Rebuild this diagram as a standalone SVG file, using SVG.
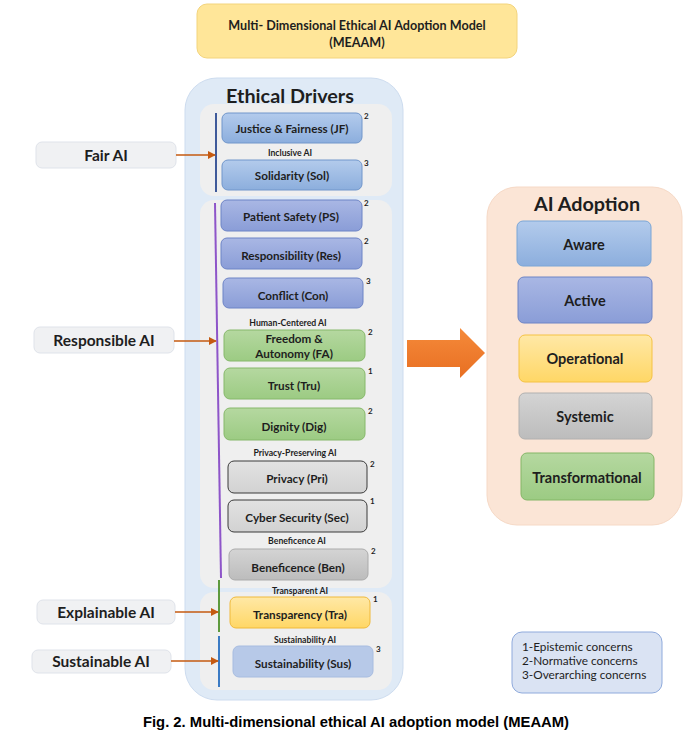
<svg xmlns="http://www.w3.org/2000/svg" width="688" height="745" viewBox="0 0 688 745">
<style>
text{font-family:Lato,"Liberation Sans",sans-serif;fill:#1e1e1e;font-weight:bold}
.nt{font-size:11.7px;text-anchor:middle;dominant-baseline:central}
.grp{font-size:8.7px;text-anchor:middle;dominant-baseline:central}
.sup{font-size:8px}
.lbl{font-size:15.5px;text-anchor:middle;dominant-baseline:central}
.ad{font-size:14.5px;text-anchor:middle;dominant-baseline:central}
.hd{font-size:19.8px;text-anchor:middle;dominant-baseline:central}
.lg{font-size:11.8px;font-weight:normal}
.lb{fill:#f0f1f3;stroke:#dfe3ea;stroke-width:1}
.conn{stroke:#c55a11;stroke-width:1.6;fill:none;marker-end:url(#ah)}
</style>
<defs>
<marker id="ah" viewBox="0 0 10 10" refX="9" refY="5" markerWidth="5" markerHeight="5" orient="auto" markerUnits="strokeWidth"><path d="M0,0L10,5L0,10z" fill="#c55a11"/></marker>
<linearGradient id="gBlue" x1="0" y1="0" x2="0" y2="1"><stop offset="0" stop-color="#b3cbec"/><stop offset="1" stop-color="#8caedd"/></linearGradient>
<linearGradient id="gPeri" x1="0" y1="0" x2="0" y2="1"><stop offset="0" stop-color="#a9b7e4"/><stop offset="1" stop-color="#8a9dd7"/></linearGradient>
<linearGradient id="gGreen" x1="0" y1="0" x2="0" y2="1"><stop offset="0" stop-color="#b5d8a0"/><stop offset="1" stop-color="#9ccb83"/></linearGradient>
<linearGradient id="gGray" x1="0" y1="0" x2="0" y2="1"><stop offset="0" stop-color="#e2e2e2"/><stop offset="1" stop-color="#d2d2d2"/></linearGradient>
<linearGradient id="gGray2" x1="0" y1="0" x2="0" y2="1"><stop offset="0" stop-color="#d4d4d4"/><stop offset="1" stop-color="#bcbcbc"/></linearGradient>
<linearGradient id="gYel" x1="0" y1="0" x2="0" y2="1"><stop offset="0" stop-color="#ffe8a6"/><stop offset="1" stop-color="#ffd766"/></linearGradient>
<linearGradient id="gOrange" x1="0" y1="0" x2="0" y2="1"><stop offset="0" stop-color="#f58a3a"/><stop offset="1" stop-color="#e86f22"/></linearGradient>
</defs>

<g id="title">
<rect x="197" y="4" width="320" height="54" rx="10" fill="#ffe699" stroke="#f3d47c"/>
<text x="357" y="25" class="nt" style="font-size:12.6px">Multi- Dimensional Ethical AI Adoption Model</text>
<text x="357" y="42" class="nt" style="font-size:12.6px">(MEAAM)</text>
</g>

<g id="ethical-drivers">
<rect x="185" y="78" width="218" height="622" rx="32" fill="#dfeaf6" stroke="#cddcef"/>
<text x="290" y="95" class="hd">Ethical Drivers</text>
<rect x="200" y="104" width="192" height="92" rx="14" fill="#efefef"/>
<rect x="200" y="200" width="192" height="388" rx="14" fill="#efefef"/>
<rect x="200" y="592" width="192" height="98" rx="14" fill="#efefef"/>
</g>

<g id="group-lines">
<line x1="216" y1="113" x2="216" y2="192" stroke="#3f5a9a" stroke-width="2"/>
<line x1="215" y1="203" x2="221" y2="578" stroke="#8e55c9" stroke-width="2"/>
<line x1="219" y1="580" x2="219" y2="632" stroke="#5e9a3e" stroke-width="2"/>
<line x1="219" y1="636" x2="219" y2="687" stroke="#3b7bc4" stroke-width="2"/>
</g>

<g id="jf"><rect x="222" y="113" width="140" height="30" rx="6" fill="url(#gBlue)" stroke="#7096cb"/><text x="292" y="128" class="nt">Justice &amp; Fairness (JF)</text><text x="364" y="119" class="sup">2</text></g>
<text x="290" y="152" class="grp">Inclusive AI</text>
<g id="sol"><rect x="222" y="160" width="140" height="30" rx="6" fill="url(#gBlue)" stroke="#7096cb"/><text x="292" y="175" class="nt">Solidarity (Sol)</text><text x="364" y="166" class="sup">3</text></g>

<g id="ps"><rect x="221" y="200" width="141" height="31" rx="6" fill="url(#gPeri)" stroke="#6d84c6"/><text x="291" y="216" class="nt">Patient Safety (PS)</text><text x="364" y="206" class="sup">2</text></g>
<g id="res"><rect x="221" y="238" width="141" height="31" rx="6" fill="url(#gPeri)" stroke="#6d84c6"/><text x="291" y="255" class="nt">Responsibility (Res)</text><text x="364" y="244" class="sup">2</text></g>
<g id="con"><rect x="223" y="278" width="140" height="30" rx="6" fill="url(#gPeri)" stroke="#6d84c6"/><text x="293" y="295" class="nt">Conflict (Con)</text><text x="366" y="284" class="sup">3</text></g>
<text x="288" y="322" class="grp">Human-Centered AI</text>
<g id="fa"><rect x="224" y="330" width="141" height="31" rx="6" fill="url(#gGreen)" stroke="#86b86a"/><text x="294" y="338" class="nt">Freedom &amp;</text><text x="294" y="353" class="nt">Autonomy (FA)</text><text x="368" y="335" class="sup">2</text></g>
<g id="tru"><rect x="224" y="368" width="141" height="31" rx="6" fill="url(#gGreen)" stroke="#86b86a"/><text x="294" y="385" class="nt">Trust (Tru)</text><text x="368" y="374" class="sup">1</text></g>
<g id="dig"><rect x="224" y="408" width="141" height="32" rx="6" fill="url(#gGreen)" stroke="#86b86a"/><text x="294" y="426" class="nt">Dignity (Dig)</text><text x="368" y="414" class="sup">2</text></g>
<text x="295" y="452" class="grp">Privacy-Preserving AI</text>
<g id="pri"><rect x="228" y="461" width="139" height="32" rx="6" fill="url(#gGray)" stroke="#3a3a3a"/><text x="297" y="478" class="nt">Privacy (Pri)</text><text x="370" y="467" class="sup">2</text></g>
<g id="sec"><rect x="228" y="500" width="139" height="32" rx="6" fill="url(#gGray)" stroke="#3a3a3a"/><text x="297" y="517" class="nt">Cyber Security (Sec)</text><text x="370" y="504" class="sup">1</text></g>
<text x="297" y="540" class="grp">Beneficence AI</text>
<g id="ben"><rect x="229" y="549" width="139" height="31" rx="6" fill="url(#gGray2)" stroke="#ababab"/><text x="298" y="567" class="nt">Beneficence (Ben)</text><text x="371" y="554" class="sup">2</text></g>
<text x="300" y="590" class="grp">Transparent AI</text>
<g id="tra"><rect x="230" y="597" width="140" height="31" rx="6" fill="url(#gYel)" stroke="#f0b93a"/><text x="300" y="614" class="nt">Transparency (Tra)</text><text x="373" y="602" class="sup">1</text></g>
<text x="305" y="639" class="grp">Sustainability AI</text>
<g id="sus"><rect x="233" y="646" width="140" height="31" rx="6" fill="#b7c9e8" stroke="#a7bce0"/><text x="303" y="663" class="nt">Sustainability (Sus)</text><text x="376" y="652" class="sup">3</text></g>

<g id="fair-ai"><rect x="36" y="142" width="140" height="26" rx="6" class="lb"/><text x="106" y="155" class="lbl">Fair AI</text></g>
<g id="responsible-ai"><rect x="34" y="327" width="140" height="26" rx="6" class="lb"/><text x="104" y="340" class="lbl">Responsible AI</text></g>
<g id="explainable-ai"><rect x="37" y="600" width="138" height="24" rx="6" class="lb"/><text x="106" y="612" class="lbl">Explainable AI</text></g>
<g id="sustainable-ai"><rect x="32" y="650" width="139" height="23" rx="6" class="lb"/><text x="101" y="661" class="lbl">Sustainable AI</text></g>

<g id="connectors">
<line x1="176" y1="155" x2="215" y2="155" class="conn"/>
<line x1="174" y1="341" x2="216" y2="341" class="conn"/>
<line x1="175" y1="612" x2="218" y2="612" class="conn"/>
<line x1="171" y1="661" x2="218" y2="661" class="conn"/>
<path id="big-arrow" d="M407,340H460V328L485,353L460,378V367H407Z" fill="url(#gOrange)"/>
</g>

<g id="ai-adoption">
<rect x="487" y="187" width="195" height="338" rx="30" fill="#fbe5d6" stroke="#f6d9c6"/>
<text x="587" y="203" class="hd">AI Adoption</text>
</g>
<g id="aware"><rect x="517" y="221" width="134" height="45" rx="6" fill="url(#gBlue)" stroke="#7aa6d6"/><text x="584" y="244" class="ad">Aware</text></g>
<g id="active"><rect x="518" y="277" width="134" height="46" rx="6" fill="url(#gPeri)" stroke="#6d84c6"/><text x="585" y="300" class="ad">Active</text></g>
<g id="operational"><rect x="519" y="335" width="133" height="47" rx="6" fill="url(#gYel)" stroke="#f5c242"/><text x="585" y="358" class="ad">Operational</text></g>
<g id="systemic"><rect x="519" y="393" width="133" height="46" rx="6" fill="url(#gGray2)" stroke="#b0b0b0"/><text x="585" y="416" class="ad">Systemic</text></g>
<g id="transformational"><rect x="521" y="453" width="133" height="47" rx="6" fill="url(#gGreen)" stroke="#84b667"/><text x="587" y="477" class="ad">Transformational</text></g>

<g id="legend">
<rect x="512" y="632" width="150" height="61" rx="10" fill="#dae3f3" stroke="#8faadc"/>
<text x="522" y="651" class="lg">1-Epistemic concerns</text>
<text x="522" y="665" class="lg">2-Normative concerns</text>
<text x="522" y="679" class="lg">3-Overarching concerns</text>
</g>

<text x="356" y="727" style="font-family:'Liberation Sans',Arial,sans-serif;font-size:14.8px;text-anchor:middle;fill:#000">Fig. 2. Multi-dimensional ethical AI adoption model (MEAAM)</text>
</svg>
